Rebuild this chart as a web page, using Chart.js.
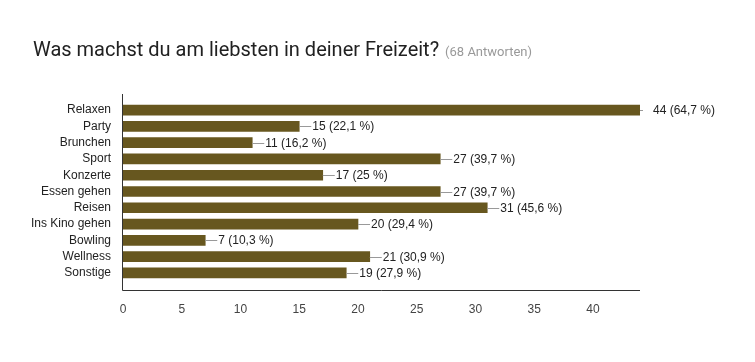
<!DOCTYPE html>
<html>
<head>
<meta charset="utf-8">
<script src="https://cdn.jsdelivr.net/npm/chart.js@4"></script>
<style>
  body { margin: 0; background: #fff; }
  #wrap { position: relative; width: 755px; height: 362px; }
  #title {
    position: absolute; left: 33px; top: 37px;
    font-family: Roboto, sans-serif; font-size: 20px; color: #212121;
    white-space: nowrap;
  }
  #title span { font-size: 13px; color: #999; margin-left: 6px; }
</style>
</head>
<body>
<div id="wrap">
  <canvas id="chartBar" width="755" height="362"></canvas>
  <div id="title">Was machst du am liebsten in deiner Freizeit?<span>(68 Antworten)</span></div>
</div>
<script>
const categories = ["Relaxen", "Party", "Brunchen", "Sport", "Konzerte", "Essen gehen",
  "Reisen", "Ins Kino gehen", "Bowling", "Wellness", "Sonstige"];
const answers = [44, 15, 11, 27, 17, 27, 31, 20, 7, 21, 19];
const totalAnswers = 68;
const xTicks = [0, 5, 10, 15, 20, 25, 30, 35, 40];

function pctLabel(v) {
  const p = Math.round(v / totalAnswers * 1000) / 10;
  return v + " (" + String(p).replace(".", ",") + " %)";
}

// axis lines stick out a bit beyond the bars, like the original
const axisLines = {
  id: "axisLines",
  afterDraw(chart) {
    const { ctx, chartArea } = chart;
    ctx.save();
    ctx.strokeStyle = "#333";
    ctx.lineWidth = 1;
    ctx.beginPath();
    ctx.moveTo(chartArea.left - 0.5, chartArea.top - 8);
    ctx.lineTo(chartArea.left - 0.5, chartArea.bottom + 9.5);
    ctx.lineTo(chartArea.right, chartArea.bottom + 9.5);
    ctx.stroke();
    ctx.restore();
  }
};

const barLabels = {
  id: "barLabels",
  afterDatasetsDraw(chart) {
    const { ctx, chartArea } = chart;
    const meta = chart.getDatasetMeta(0);
    ctx.save();
    ctx.font = "12px 'Liberation Sans', Arial, sans-serif";
    ctx.textBaseline = "middle";
    meta.data.forEach((bar, i) => {
      const y = Math.round(bar.y) + 0.5;
      const lineEnd = Math.min(bar.x + 12, chartArea.right + 3);
      ctx.strokeStyle = "#999";
      ctx.lineWidth = 1;
      ctx.beginPath();
      ctx.moveTo(bar.x, y);
      ctx.lineTo(lineEnd, y);
      ctx.stroke();
      ctx.fillStyle = "#222";
      ctx.fillText(pctLabel(answers[i]), bar.x + 13, y);
    });
    ctx.restore();
  }
};

const chartBar = new Chart("chartBar", {
  type: "bar",
  data: {
    labels: categories,
    datasets: [
      {
        label: "",
        data: answers,
        backgroundColor: "#67571f",
        borderWidth: 0,
        barThickness: 10,
      },
    ],
  },
  plugins: [axisLines, barLabels],
  options: {
    indexAxis: "y",
    responsive: false,
    animation: false,
    layout: { padding: { top: 102, right: 115, bottom: 41, left: 0 } },
    plugins: {
      legend: { display: false },
      tooltip: { enabled: false },
    },
    scales: {
      x: {
        min: 0,
        max: 44,
        afterFit(scale) { scale.height = 40; },
        afterBuildTicks(scale) { scale.ticks = xTicks.map(v => ({ value: v })); },
        grid: { display: false },
        border: { display: false },
        ticks: {
          color: "#444",
          padding: 13,
          font: { family: "'Liberation Sans', Arial, sans-serif", size: 12 },
        },
      },
      y: {
        afterFit(scale) { scale.width = 123; },
        grid: { display: false },
        border: { display: false },
        ticks: {
          color: "#222",
          padding: 4,
          autoSkip: false,
          font: { family: "'Liberation Sans', Arial, sans-serif", size: 12 },
        },
      },
    },
  },
});
</script>
</body>
</html>
